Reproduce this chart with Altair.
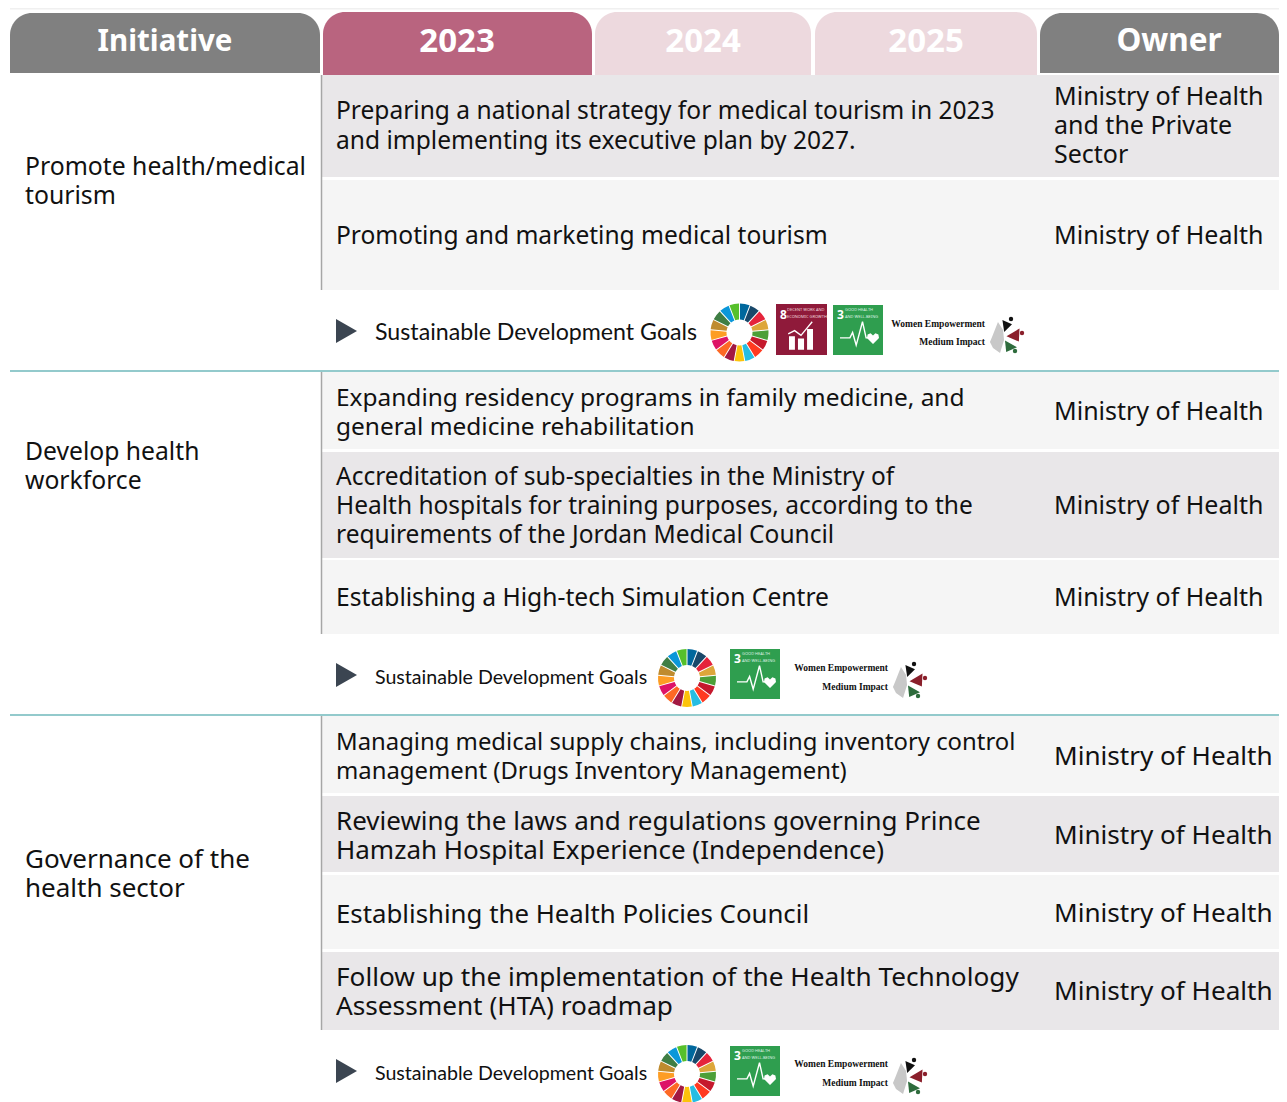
import math
import altair as alt
import pandas as pd

W, H = 1271, 1094
FONT = "Noto Sans"
X = alt.Scale(domain=[8, 1279], nice=False, zero=False)
Y = alt.Scale(domain=[1102, 8], nice=False, zero=False)

# --- table content ---
headers = ["Initiative", "2023", "2024", "2025", "Owner"]
header_size = [29.5, 33, 33, 33, 31.5]
header_x0 = [10, 323, 595, 815, 1040]
header_x1 = [320, 592, 811, 1037, 1279]
header_y0 = [13, 12, 12, 12, 13]
header_y1 = [73, 75, 75, 75, 73]
header_fill = ["#808080", "#B9647F", "#EDD9DE", "#EDD9DE", "#808080"]

row_y0 = [75, 180, 372, 452, 560, 716, 796, 875, 952]
row_y1 = [177, 290, 449, 558, 634, 793, 872, 949, 1030]
row_fill = ["#E9E7E9", "#F5F5F5", "#F5F5F5", "#E9E7E9", "#F5F5F5",
            "#F5F5F5", "#E9E7E9", "#F5F5F5", "#E9E7E9"]

initiatives = ["Promote health/medical", "tourism", "Develop health", "workforce",
               "Governance of the", "health sector"]
initiative_y = [168, 197, 453, 482, 860, 889]
initiative_size = [24.75, 24.75, 24.7, 24.7, 26, 26]

task_lines = [
    "Preparing a national strategy for medical tourism in 2023",
    "and implementing its executive plan by 2027.",
    "Promoting and marketing medical tourism",
    "Expanding residency programs in family medicine, and",
    "general medicine rehabilitation",
    "Accreditation of sub-specialties in the Ministry of",
    "Health hospitals for training purposes, according to the",
    "requirements of the Jordan Medical Council",
    "Establishing a High-tech Simulation Centre",
    "Managing medical supply chains, including inventory control",
    "management (Drugs Inventory Management)",
    "Reviewing the laws and regulations governing Prince",
    "Hamzah Hospital Experience (Independence)",
    "Establishing the Health Policies Council",
    "Follow up the implementation of the Health Technology",
    "Assessment (HTA) roadmap",
]
task_y = [112, 142, 237, 399, 428, 478, 507, 536, 599, 743, 772, 822, 851, 915, 978, 1007]
task_size = [24.55, 24.55, 24.55, 24.45, 24.45, 24.5, 24.5, 24.5, 24.65, 23.86, 23.86,
             26, 26, 25.8, 26.2, 26.2]

owner_lines = ["Ministry of Health", "and the Private", "Sector", "Ministry of Health",
               "Ministry of Health", "Ministry of Health", "Ministry of Health",
               "Ministry of Health", "Ministry of Health", "Ministry of Health",
               "Ministry of Health"]
owner_y = [96.5, 125.5, 154.5, 235.5, 411.5, 505.5, 597.5, 756.5, 835.5, 913.5, 991.5]
owner_size = [25, 25, 25, 25, 25, 25, 25, 26.1, 26.1, 26.1, 26.1]

# --- goal strips ---
sdg_label = "Sustainable Development Goals"
strip_y = [333, 678, 1074]
strip_size = [23.2, 19.6, 19.6]
strip_font = ["Lato", "Lato", "Lato"]
wheel_x = [739.5, 687, 687]
wheel_y = [332.5, 678, 1074]
wheel_colors = ["#E5243B", "#DDA63A", "#4C9F38", "#C5192D", "#FF3A21", "#26BDE2",
                "#FCC30B", "#A21942", "#FD6925", "#DD1367", "#FD9D24", "#BF8B2E",
                "#3F7E44", "#0A97D9", "#56C02B", "#00689D", "#19486A"]
wheel_start_deg = 42.4
teal_lines = [371, 715]

# tiles (x, y of top-left), origin of icons by strip
green_tile_x = [833, 730, 730]
green_tile_y = [305, 649, 1046]
maroon_tile_x = [776]
maroon_tile_y = [304]
emp_x = [985, 888, 888]
emp_y1 = [324, 668, 1064]
emp_y2 = [342, 687, 1083]
icon_dx = [0, -97, -97]
icon_dy = [0, 345, 741]


def frame(**kw):
    return pd.DataFrame(kw)


def rects(df, **mark):
    return alt.Chart(df).mark_rect(**mark).encode(
        x=alt.X("x0:Q", scale=X, axis=None), x2="x1:Q",
        y=alt.Y("y0:Q", scale=Y, axis=None), y2="y1:Q",
        fill=alt.Fill("fill:N", scale=None),
    )


def rules(df, color, width):
    return alt.Chart(df).mark_rule(color=color, strokeWidth=width).encode(
        x=alt.X("x0:Q", scale=X, axis=None), x2="x1:Q",
        y=alt.Y("y0:Q", scale=Y, axis=None), y2="y1:Q",
    )


def texts(df, align="left", color="#111111", font=FONT, weight="normal"):
    return alt.Chart(df).mark_text(
        align=align, baseline="middle", color=color, font=font, fontWeight=weight
    ).encode(
        x=alt.X("x:Q", scale=X, axis=None),
        y=alt.Y("y:Q", scale=Y, axis=None),
        text="t:N",
        size=alt.Size("s:Q", scale=None),
    )


def glyph(path, xs, ys, radius, color, filled=True, stroke_width=1.0):
    df = frame(x=xs, y=ys)
    kw = dict(shape=path, size=(2 * radius) ** 2, filled=filled, opacity=1, color=color)
    if not filled:
        kw["strokeWidth"] = stroke_width
    else:
        kw["strokeWidth"] = 0
    return alt.Chart(df).mark_point(**kw).encode(
        x=alt.X("x:Q", scale=X, axis=None), y=alt.Y("y:Q", scale=Y, axis=None)
    )


layers = []

# faint top rule
layers.append(rects(frame(x0=[10], x1=[1279], y0=[8], y1=[9.5], fill=["#F0F0F0"])))

# rows
layers.append(rects(frame(x0=[322] * 9, x1=[1279] * 9, y0=row_y0, y1=row_y1, fill=row_fill)))

# headers
layers.append(rects(frame(x0=header_x0, x1=header_x1, y0=header_y0, y1=header_y1, fill=header_fill),
                    cornerRadiusTopLeft=22, cornerRadiusTopRight=22))

# separators
layers.append(rules(frame(x0=[10, 10], x1=[1279, 1279], y0=teal_lines, y1=teal_lines), "#6FB9BB", 1.5))
layers.append(rules(frame(x0=[321.5] * 3, x1=[321.5] * 3, y0=[75, 372, 716], y1=[290, 634, 1030]), "#A6A6A6", 1.5))

# header text
layers.append(texts(frame(x=[165, 457, 703, 926, 1169], y=[42] * 5, t=headers, s=header_size),
                    align="center", color="#FFFFFF", weight="bold"))

# body text
layers.append(texts(frame(x=[25] * 6, y=initiative_y, t=initiatives, s=initiative_size)))
layers.append(texts(frame(x=[336] * 16, y=task_y, t=task_lines, s=task_size)))
layers.append(texts(frame(x=[1054] * 11, y=owner_y, t=owner_lines, s=owner_size)))
for yy, ss, ff in zip(strip_y, strip_size, strip_font):
    layers.append(texts(frame(x=[375], y=[yy], t=[sdg_label], s=[ss]), font=ff))

# play markers
layers.append(glyph("M-0.875,-1L0.875,0L-0.875,1Z", [346.5] * 3, [331, 675, 1071], 12, "#3B4551"))

# wheels
wheel_rows = []
step = 360 / len(wheel_colors)
for cx, cy in zip(wheel_x, wheel_y):
    for i, c in enumerate(wheel_colors):
        a0 = math.radians(wheel_start_deg + i * step)
        a1 = math.radians(wheel_start_deg + (i + 1) * step)
        wheel_rows.append(dict(x=cx, y=cy, t0=a0, t1=a1, c=c))
layers.append(
    alt.Chart(pd.DataFrame(wheel_rows)).mark_arc(innerRadius=13, outerRadius=29, padAngle=0.03).encode(
        x=alt.X("x:Q", scale=X, axis=None), y=alt.Y("y:Q", scale=Y, axis=None),
        theta=alt.Theta("t0:Q", scale=None), theta2="t1:Q",
        fill=alt.Fill("c:N", scale=None),
    )
)

# tiles
layers.append(rects(frame(x0=maroon_tile_x, x1=[x + 51 for x in maroon_tile_x],
                          y0=maroon_tile_y, y1=[y + 51 for y in maroon_tile_y], fill=["#8F1A3A"])))
layers.append(rects(frame(x0=green_tile_x, x1=[x + 50 for x in green_tile_x],
                          y0=green_tile_y, y1=[y + 50 for y in green_tile_y], fill=["#2F9E4F"] * 3)))

# tile numerals + captions
layers.append(texts(frame(x=[780], y=[315], t=["8"], s=[12]), color="#FFFFFF", weight="bold"))
layers.append(texts(frame(x=[787, 787], y=[310, 317], t=["DECENT WORK AND", "ECONOMIC GROWTH"], s=[4, 4]),
                    color="#F0D8DE"))
layers.append(texts(frame(x=[x + 4 for x in green_tile_x], y=[y + 10 for y in green_tile_y],
                          t=["3"] * 3, s=[12] * 3), color="#FFFFFF", weight="bold"))
cap_x, cap_y, cap_t = [], [], []
for x, y in zip(green_tile_x, green_tile_y):
    cap_x += [x + 12, x + 12]
    cap_y += [y + 5, y + 12]
    cap_t += ["GOOD HEALTH", "AND WELL-BEING"]
layers.append(texts(frame(x=cap_x, y=cap_y, t=cap_t, s=[4] * 6), color="#DDF0E2"))

# tile icons
layers.append(glyph("M-0.75,-0.05H-0.38V0.8H-0.75ZM-0.19,0.1H0.19V0.8H-0.19ZM0.38,-0.5H0.75V0.8H0.38Z",
                    [801], [337], 16, "#FFFFFF"))
layers.append(glyph("M-0.8,-0.2L-0.4,-0.4L0,-0.1L0.45,-0.65L0.7,-0.95", [801], [337], 16, "#FFFFFF",
                    filled=False, stroke_width=1.4))
green_cx = [x + 25 for x in green_tile_x]
green_cy = [y + 32 for y in green_tile_y]
layers.append(glyph("M-1,0.05H-0.45L-0.3,-0.25L-0.1,0.45L0.25,-0.85L0.45,0.05H0.6",
                    green_cx, green_cy, 18, "#FFFFFF", filled=False, stroke_width=1.4))
layers.append(glyph("M0,1L-1,0L-0.9,-0.6L-0.4,-0.8L0,-0.4L0.4,-0.8L0.9,-0.6L1,0Z",
                    [x + 15 for x in green_cx], [y + 1 for y in green_cy], 6, "#FFFFFF"))

# women empowerment stamp
layers.append(texts(frame(x=emp_x * 2, y=emp_y1 + emp_y2,
                          t=["Women Empowerment"] * 3 + ["Medium Impact"] * 3, s=[9.5] * 6),
                    align="right", font="Liberation Serif", weight="bold"))


def icon(dx0, dy0):
    return [x + dx0 for x in icon_dx], [y + dy0 for y in icon_dy]


fx, fy = icon(997, 337)
layers.append(glyph("M0.06,-0.94L-0.31,0L-0.44,0.31L-0.25,0.69L0.19,1L0.44,0.19L0.38,-0.44Z", fx, fy, 16, "#C8C8C8"))
bx, by = icon(1006, 326)
layers.append(glyph("M-0.6,-1L1,-0.3L-0.3,1Z", bx, by, 6, "#111111"))
dx, dy = icon(1011, 319)
layers.append(glyph("circle", dx, dy, 2.2, "#111111"))
rx, ry = icon(1013, 335)
layers.append(glyph("M-1,0.2L1,-1L0.9,1Z", rx, ry, 6.5, "#8A1F2B"))
dx, dy = icon(1022, 333)
layers.append(glyph("circle", dx, dy, 2.2, "#8A1F2B"))
gx, gy = icon(1011, 346)
layers.append(glyph("M-1,-0.9L1,0.2L-0.8,1Z", gx, gy, 6, "#2E6B3C"))
dx, dy = icon(1015, 351)
layers.append(glyph("circle", dx, dy, 2.2, "#2E6B3C"))

chart = alt.layer(*layers).properties(
    width=W, height=H, padding=0, autosize=alt.AutoSizeParams(type="none"),
    background="#FFFFFF",
).configure_view(stroke=None)

chart.save("out.html", embed_options={"renderer": "svg", "actions": False})
